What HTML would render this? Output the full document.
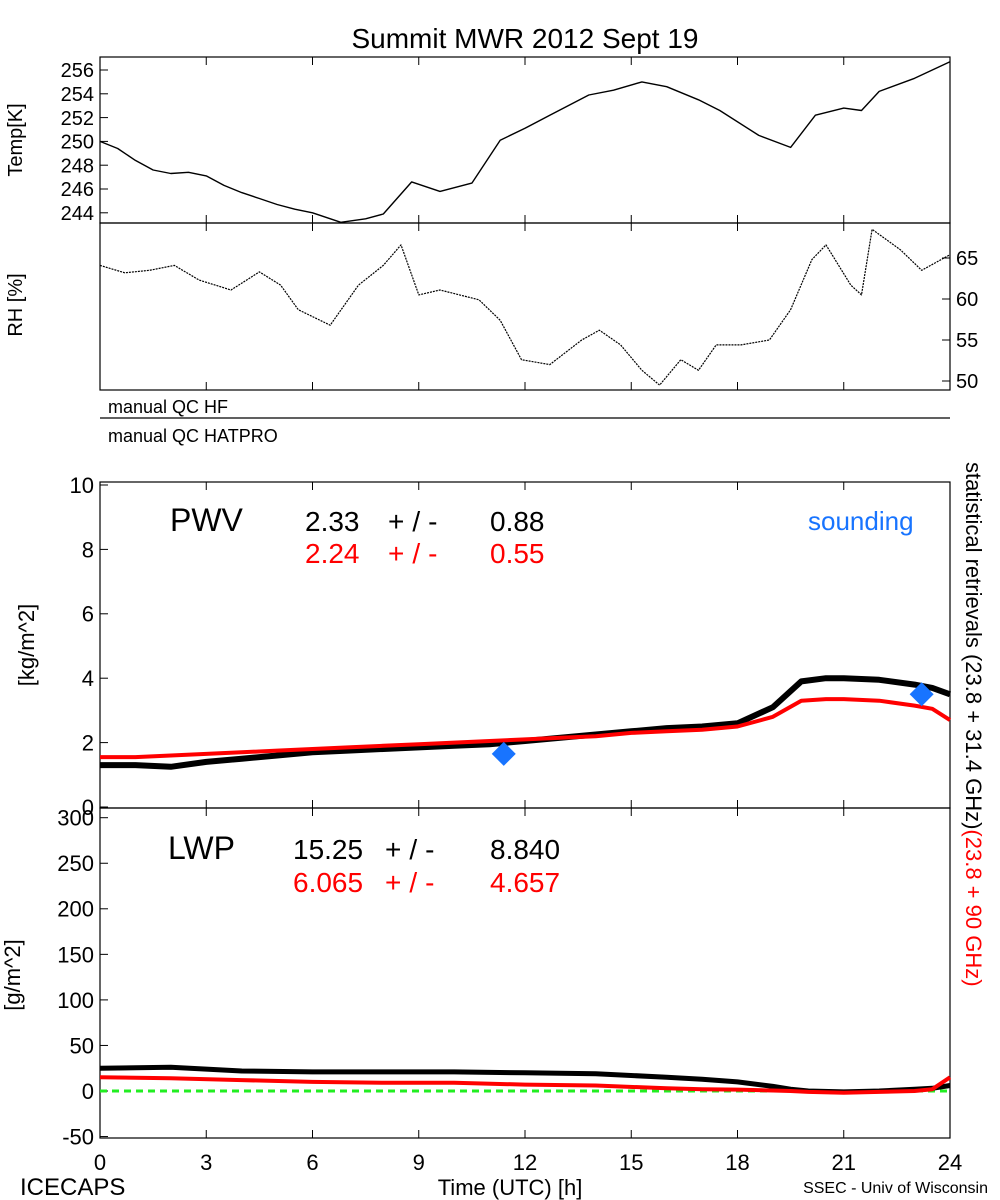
<!DOCTYPE html>
<html><head><meta charset="utf-8">
<style>
body{margin:0;background:#fff;}
svg{display:block;font-family:"Liberation Sans",sans-serif;}
</style></head>
<body>
<svg id="chart" width="1000" height="1200" viewBox="0 0 1000 1200" xmlns="http://www.w3.org/2000/svg">
<rect width="1000" height="1200" fill="#fff"/>
<text x="525" y="48" font-size="28" text-anchor="middle">Summit MWR 2012 Sept 19</text>
<g id="frames" fill="none" stroke="#000" stroke-width="1.2">
<rect x="100" y="57" width="850" height="166"/>
<rect x="100" y="223" width="850" height="167"/>
<line x1="100" y1="418" x2="950" y2="418"/>
<rect x="100" y="482" width="850" height="326"/>
<rect x="100" y="808" width="850" height="330"/>
</g>
<text x="108" y="413" font-size="18">manual QC HF</text>
<text x="108" y="442" font-size="18">manual QC HATPRO</text>
<text transform="translate(22,140) rotate(-90)" font-size="20" text-anchor="middle">Temp[K]</text>
<text transform="translate(22,305) rotate(-90)" font-size="20" text-anchor="middle">RH [%]</text>
<text transform="translate(34,645) rotate(-90)" font-size="22" text-anchor="middle">[kg/m^2]</text>
<text transform="translate(20,975) rotate(-90)" font-size="22" text-anchor="middle">[g/m^2]</text>
<text x="170" y="531" font-size="32">PWV</text>
<text y="531" font-size="28"><tspan x="305">2.33</tspan><tspan x="388" letter-spacing="8">+/-</tspan><tspan x="490">0.88</tspan></text>
<text y="563" font-size="28" fill="#f00"><tspan x="305">2.24</tspan><tspan x="388" letter-spacing="8">+/-</tspan><tspan x="490">0.55</tspan></text>
<text x="808" y="530" font-size="26" fill="#1874ff">sounding</text>
<text x="168" y="859" font-size="32">LWP</text>
<text y="859" font-size="28"><tspan x="293">15.25</tspan><tspan x="385" letter-spacing="8">+/-</tspan><tspan x="490">8.840</tspan></text>
<text y="892" font-size="28" fill="#f00"><tspan x="293">6.065</tspan><tspan x="385" letter-spacing="8">+/-</tspan><tspan x="490">4.657</tspan></text>
<text transform="translate(966,462) rotate(90)" font-size="22"><tspan fill="#000">statistical retrievals (23.8 + 31.4 GHz)</tspan><tspan fill="#f00">(23.8 + 90 GHz)</tspan></text>
<text x="20" y="1195" font-size="24">ICECAPS</text>
<text x="510" y="1195" font-size="22" text-anchor="middle">Time (UTC) [h]</text>
<text x="988" y="1193" font-size="16" text-anchor="end">SSEC - Univ of Wisconsin</text>
<g id="ticks"></g>
<g id="series"></g>
</svg>
<script>
const xTicks=[0,3,6,9,12,15,18,21,24];
const tempTicks=[244,246,248,250,252,254,256];
const rhTicks=[50,55,60,65];
const pwvTicks=[0,2,4,6,8,10];
const lwpTicks=[-50,0,50,100,150,200,250,300];
const tempHours=[0,0.5,1,1.5,2,2.5,3,3.5,4,4.5,5,5.5,6,6.8,7.5,8,8.8,9.6,10.5,11.3,12,12.7,13.8,14.5,15.3,16,16.9,17.5,18.6,19.5,20.2,21,21.5,22,23,24];
const tempVals=[250,249.4,248.4,247.6,247.3,247.4,247.1,246.3,245.7,245.2,244.7,244.3,244,243.2,243.5,243.9,246.6,245.8,246.5,250.1,251.1,252.2,253.9,254.3,255,254.6,253.5,252.6,250.5,249.5,252.2,252.8,252.6,254.2,255.3,256.7];
const rhHours=[0,0.7,1.4,2.1,2.8,3.7,4.5,5.1,5.6,6.5,7.3,8,8.5,9,9.6,10.7,11.3,11.9,12.7,13.6,14.1,14.7,15.3,15.8,16.4,16.9,17.4,18.1,18.9,19.5,20.1,20.5,21.2,21.5,21.8,22.6,23.2,24];
const rhVals=[64.1,63.2,63.5,64.1,62.3,61.1,63.3,61.7,58.7,56.8,61.7,64.1,66.6,60.5,61.1,59.9,57.4,52.6,52,55,56.2,54.4,51.3,49.5,52.6,51.3,54.4,54.4,55,58.7,64.8,66.6,61.7,60.5,68.5,66,63.5,65.4];
const pwvHours=[0,1,2,3,4,5,6,7,8,9,10,11,12,13,14,15,16,17,18,19,19.8,20.5,21,22,23,23.5,24];
const pwvBlack=[1.3,1.3,1.25,1.4,1.5,1.6,1.7,1.75,1.8,1.85,1.9,1.95,2.05,2.15,2.25,2.35,2.45,2.5,2.6,3.1,3.9,4.0,4.0,3.95,3.8,3.7,3.5];
const pwvRed=[1.55,1.55,1.6,1.65,1.7,1.75,1.8,1.85,1.9,1.95,2.0,2.05,2.1,2.15,2.2,2.3,2.35,2.4,2.5,2.8,3.3,3.35,3.35,3.3,3.15,3.05,2.7];
const soundHours=[11.4,23.2];
const soundVals=[1.65,3.5];
const lwpHours=[0,2,4,6,8,10,12,14,16,17,18,19,19.5,20,21,22,23,23.5,24];
const lwpBlack=[25,26,22,21,21,21,20,19,15,13,10,5,2,0,-1,0,2,3,6];
const lwpRed=[15,14,12,10,9,9,7,6,3,2,1.5,0.5,0,-1,-2,-1,0,2,15];
const NS='http://www.w3.org/2000/svg';
const X=h=>100+h*850/24;
const yTemp=v=>70+(256-v)*11.9;
const yRh=v=>258+(65-v)*8.2;
const yPwv=v=>807-v*32.2;
const yLwp=v=>1091-v*0.911;
const tg=document.getElementById('ticks'), sg=document.getElementById('series');
function mk(tag,attrs,parent){const e=document.createElementNS(NS,tag);for(const k in attrs)e.setAttribute(k,attrs[k]);parent.appendChild(e);return e;}
xTicks.forEach(h=>{
 [[57,1],[223,-1],[223,1],[390,-1],[482,1],[808,-1],[808,1],[1138,-1]].forEach(([y,d])=>{
  const t=mk('line',{x1:X(h),x2:X(h),y1:y,y2:y+d*8,stroke:'#000'},tg);
  
  
 });
 const l=mk('text',{x:X(h),y:1170,'font-size':22,'text-anchor':'middle'},tg);l.textContent=h;
 
 
});
function yAxis(ticks,f,side,size,name){
 ticks.forEach(v=>{
  const y=f(v);
  const t=mk('line',{x1:side?950:100,x2:side?942:108,y1:y,y2:y,stroke:'#000'},tg);
  
  
  const l=mk('text',{x:side?956:94,y:y+size*0.36,'font-size':size,'text-anchor':side?'start':'end'},tg);
  l.textContent=v;
  
  
 });
}
yAxis(tempTicks,yTemp,0,20,'temp');
yAxis(rhTicks,yRh,1,20,'rh');
yAxis(pwvTicks,yPwv,0,22,'pwv');
yAxis(lwpTicks,yLwp,0,22,'lwp');
function line(hs,vs,f,color,w,name,dash){
 const d=hs.map((h,i)=>(i?'L':'M')+X(h).toFixed(1)+' '+f(vs[i]).toFixed(1)).join(' ');
 const p=mk('path',{d:d,fill:'none',stroke:color,'stroke-width':w,'stroke-linejoin':'round'},sg);
 if(dash)p.setAttribute('stroke-dasharray',dash);
 
 
}
line(tempHours,tempVals,yTemp,'#000',1.4,'temp-line');
line(rhHours,rhVals,yRh,'#000',1.2,'rh-line','2 1');
line(pwvHours,pwvBlack,yPwv,'#000',6,'pwv-black-line');
line(pwvHours,pwvRed,yPwv,'#f00',4,'pwv-red-line');
line([0,24],[0,0],yLwp,'#2e2',3,'lwp-zero-line','7 5');
line(lwpHours,lwpBlack,yLwp,'#000',5,'lwp-black-line');
line(lwpHours,lwpRed,yLwp,'#f00',4,'lwp-red-line');
soundHours.forEach((h,i)=>{
 const x=X(h),y=yPwv(soundVals[i]);
 const p=mk('polygon',{points:`${x},${y-12} ${x+12},${y} ${x},${y+12} ${x-12},${y}`,fill:'#1874ff'},sg);
 
 
});
</script>
</body></html>
